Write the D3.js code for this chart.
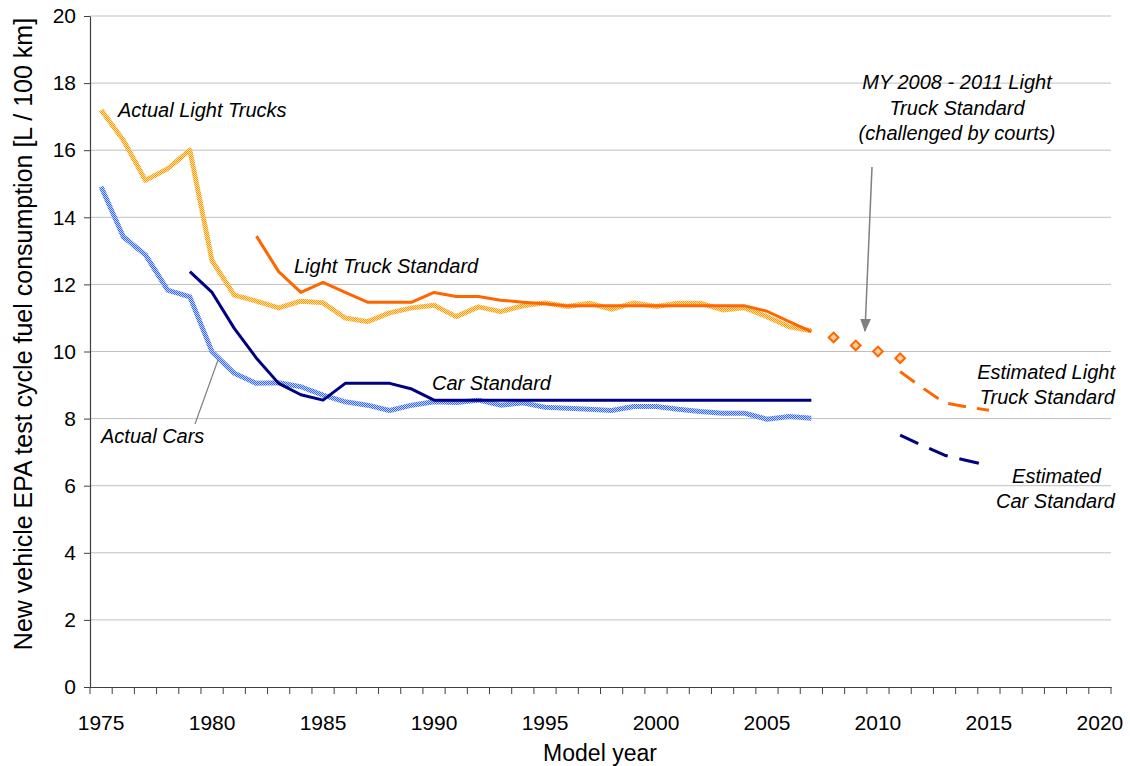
<!DOCTYPE html>
<html>
<head>
<meta charset="utf-8">
<script src="https://cdnjs.cloudflare.com/ajax/libs/d3/7.8.5/d3.min.js"></script>
<style>
  body { margin: 0; background: #fff; }
  svg { font-family: "Liberation Sans", Arial, sans-serif; }
  .lbl { font-style: italic; font-size: 20px; fill: #000; }
</style>
</head>
<body>
<svg width="1130" height="766"></svg>
<script>
// model years on the category axis
var years = d3.range(1975, 2021)
var yTicks = d3.range(0, 21, 2)

// actual fleet fuel consumption, L/100km (1975-2007)
var actualYears = d3.range(1975, 2008)
var actualTrucks = [17.2, 16.3, 15.1, 15.45, 16.0, 12.7, 11.68, 11.5, 11.3, 11.5, 11.45, 11.0, 10.89, 11.15, 11.3, 11.38, 11.04, 11.33, 11.19, 11.36, 11.45, 11.34, 11.44, 11.26, 11.45, 11.34, 11.44, 11.44, 11.24, 11.3, 11.04, 10.74, 10.62]
var actualCars = [14.91, 13.42, 12.88, 11.83, 11.63, 9.99, 9.35, 9.05, 9.07, 8.95, 8.7, 8.5, 8.4, 8.24, 8.4, 8.5, 8.48, 8.55, 8.4, 8.47, 8.34, 8.31, 8.28, 8.24, 8.36, 8.36, 8.28, 8.21, 8.16, 8.16, 7.98, 8.06, 8.01]

// standards
var carStdYears = d3.range(1979, 2008)
var carStd = [12.38, 11.76, 10.69, 9.8, 9.05, 8.71, 8.55, 9.05, 9.05, 9.05, 8.88, 8.55, 8.55, 8.55, 8.55, 8.55, 8.55, 8.55, 8.55, 8.55, 8.55, 8.55, 8.55, 8.55, 8.55, 8.55, 8.55, 8.55, 8.55]
var truckStdYears = d3.range(1982, 2008)
var truckStd = [13.44, 12.38, 11.76, 12.06, 11.76, 11.47, 11.47, 11.47, 11.76, 11.64, 11.64, 11.53, 11.47, 11.42, 11.36, 11.36, 11.36, 11.36, 11.36, 11.36, 11.36, 11.36, 11.36, 11.2, 10.89, 10.59]

// MY 2008-2011 light truck standard (diamonds)
var challengedYears = [2008, 2009, 2010, 2011]
var challenged = [10.42, 10.18, 10.0, 9.8]

// estimated standards
var estYears = [2011, 2012, 2013, 2014, 2015]
var estTruck = [9.4, 8.92, 8.47, 8.35, 8.25]
var estCar = [7.51, 7.2, 6.91, 6.75, 6.6]

var svg = d3.select("svg")

var x = d3.scaleBand().domain(years).range([90, 1111]).padding(0)
var y = d3.scaleLinear().domain([0, 20]).range([687, 16])
var cx = d => x(d) + x.bandwidth() / 2

// checkered textures for the "actual" lines
var defs = svg.append("defs")
function checker(id, c1, c2) {
    var p = defs.append("pattern").attr("id", id)
        .attr("patternUnits", "userSpaceOnUse").attr("width", 2).attr("height", 2)
    p.append("rect").attr("width", 2).attr("height", 2).attr("fill", c2)
    p.append("rect").attr("width", 1).attr("height", 1).attr("fill", c1)
    p.append("rect").attr("x", 1).attr("y", 1).attr("width", 1).attr("height", 1).attr("fill", c1)
}
checker("texTruck", "#FF9900", "#FFE2B0")
checker("texCar", "#3366FF", "#C8D6FF")

var marker = defs.append("marker").attr("id", "arrow")
    .attr("viewBox", "0 0 10 10").attr("refX", 9).attr("refY", 5)
    .attr("markerWidth", 9).attr("markerHeight", 9).attr("orient", "auto")
marker.append("path").attr("d", "M0,1 L10,5 L0,9 Z").attr("fill", "#808080")

// gridlines
svg.append("g").selectAll("line")
    .data(yTicks.filter(d => d > 0))
    .enter().append("line")
    .attr("x1", 90).attr("x2", 1111)
    .attr("y1", d => y(d)).attr("y2", d => y(d))
    .style("stroke", "#C0C0C0").style("stroke-width", "1px")

// axes
var yAxis = svg.append("g").attr("transform", "translate(90,0)")
    .call(d3.axisLeft(y).tickValues(yTicks).tickSize(6).tickPadding(8).tickSizeOuter(0))
var xAxis = svg.append("g").attr("transform", "translate(0,687)")
    .call(d3.axisBottom(x).tickValues(years.filter(d => d % 5 == 0)).tickSize(0).tickPadding(28).tickSizeOuter(0))
// year ticks sit on the category edges
xAxis.selectAll(".edge").data(years.concat([2021]))
    .enter().append("line").attr("class", "edge")
    .attr("x1", d => d == 2021 ? 1111 : x(d)).attr("x2", d => d == 2021 ? 1111 : x(d))
    .attr("y1", 0).attr("y2", 7)
    .style("stroke", "#404040")
;[yAxis, xAxis].forEach(function (g) {
    g.selectAll(".domain").style("stroke", "#404040").style("stroke-width", "1.2px")
    g.selectAll(".tick line").style("stroke", "#404040")
    g.selectAll("text").style("font-size", "21px").style("fill", "#000")
})

// axis titles
svg.append("text").attr("x", 600).attr("y", 761).attr("text-anchor", "middle")
    .style("font-size", "23px").text("Model year")
svg.append("text").attr("transform", "translate(32,334) rotate(-90)").attr("text-anchor", "middle")
    .style("font-size", "25px").text("New vehicle EPA test cycle fuel consumption [L / 100 km]")

var line = d3.line().x(d => cx(d[0])).y(d => y(d[1]))
function drawLine(xs, ys, style) {
    return svg.append("path")
        .datum(d3.zip(xs, ys))
        .attr("d", line)
        .style("fill", "none")
        .style("stroke", style.stroke)
        .style("stroke-width", style.width)
        .style("stroke-dasharray", style.dash || null)
        .style("stroke-linejoin", "round")
}

drawLine(actualYears, actualTrucks, { stroke: "url(#texTruck)", width: "5px" })
drawLine(actualYears, actualCars, { stroke: "url(#texCar)", width: "5px" })
drawLine(truckStdYears, truckStd, { stroke: "#FF6600", width: "3px" })
drawLine(carStdYears, carStd, { stroke: "#000080", width: "3px" })
drawLine(estYears, estTruck, { stroke: "#FF6600", width: "3px", dash: "18,11" })
drawLine(estYears, estCar, { stroke: "#000080", width: "3px", dash: "20,12" })

svg.append("g").selectAll("path")
    .data(d3.zip(challengedYears, challenged))
    .enter().append("path")
    .attr("d", d3.symbol().type(d3.symbolDiamond2).size(60))
    .attr("transform", d => "translate(" + cx(d[0]) + "," + y(d[1]) + ")")
    .style("fill", "#FFCC99").style("stroke", "#FF6600").style("stroke-width", "2px")

// callouts
svg.append("line").attr("x1", 195).attr("y1", 424).attr("x2", 218).attr("y2", 360)
    .style("stroke", "#808080").style("stroke-width", "1.2px")
svg.append("line").attr("x1", 872).attr("y1", 167).attr("x2", 865).attr("y2", 331)
    .style("stroke", "#808080").style("stroke-width", "1.5px").attr("marker-end", "url(#arrow)")

// labels
function label(tx, ty, txt, anchor) {
    svg.append("text").attr("class", "lbl").attr("x", tx).attr("y", ty)
        .attr("text-anchor", anchor || "start").text(txt)
}
label(118, 117, "Actual Light Trucks")
label(294, 273, "Light Truck Standard")
label(432, 390, "Car Standard")
label(101, 443, "Actual Cars")
label(957, 89, "MY 2008 - 2011 Light", "middle")
label(957, 115, "Truck Standard", "middle")
label(957, 140, "(challenged by courts)", "middle")
label(1115, 379, "Estimated Light", "end")
label(1115, 404, "Truck Standard", "end")
label(1101, 483, "Estimated", "end")
label(1115, 508, "Car Standard", "end")
</script>
</body>
</html>
